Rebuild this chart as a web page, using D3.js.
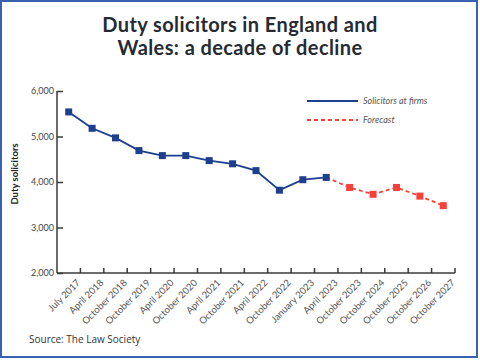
<!DOCTYPE html>
<html>
<head>
<meta charset="utf-8">
<script src="https://cdn.jsdelivr.net/npm/d3@7"></script>
<style>
  body { margin: 0; background: #fff; }
  svg { display: block; font-family: Lato, "Open Sans", sans-serif; }
</style>
</head>
<body>
<div id="chart"></div>
<script>
var w = 480, h = 360;

// data
var periods = ["July 2017", "April 2018", "October 2018", "October 2019", "April 2020",
    "October 2020", "April 2021", "October 2021", "April 2022", "October 2022",
    "January 2023", "April 2023", "October 2023", "October 2024", "October 2025",
    "October 2026", "October 2027"];
var actualPeriods = periods.slice(0, 12);
var actualValues = [5540, 5180, 4970, 4690, 4580, 4580, 4470, 4400, 4250, 3820, 4050, 4100];
var forecastPeriods = ["April 2023", "October 2023", "October 2024", "October 2025", "October 2026", "October 2027"];
var forecastValues = [4100, 3880, 3730, 3880, 3690, 3480];
var yTicks = [2000, 3000, 4000, 5000, 6000];
var legendLabels = ["Solicitors at firms", "Forecast"];

var blue = "#1d3f8e", red = "#f8403a", axisColor = "#3a3a3a";

var svg = d3.select("#chart").append("svg")
    .attr("width", w)
    .attr("height", h);

// frame
svg.append("rect")
    .attr("x", 1).attr("y", 1)
    .attr("width", 476).attr("height", 356)
    .attr("fill", "#fff")
    .attr("stroke", "#3a62b0")
    .attr("stroke-width", 2);

// title
var title = svg.append("g")
    .attr("fill", "#262b33")
    .style("font-size", "20px")
    .style("font-weight", "bold")
    .style("letter-spacing", "0.4px");
title.append("text").attr("x", 240).attr("y", 32).attr("text-anchor", "middle")
    .text("Duty solicitors in England and");
title.append("text").attr("x", 240).attr("y", 55).attr("text-anchor", "middle")
    .text("Wales: a decade of decline");

var x = d3.scaleBand().domain(periods).range([57, 455]);
var y = d3.scaleLinear().domain([2000, 6000]).range([273, 91]);

function cx(d) { return x(d) + x.bandwidth() / 2; }

// y axis
var yAxis = svg.append("g")
    .attr("transform", "translate(57,0)")
    .call(d3.axisLeft(y).tickValues(yTicks).tickSize(-6).tickPadding(4)
        .tickFormat(d3.format(",")));
yAxis.select(".domain").remove();
yAxis.selectAll(".tick line").attr("stroke", axisColor).attr("stroke-width", 1.5);
yAxis.selectAll(".tick text")
    .attr("x", -3)
    .attr("fill", "#444")
    .style("font-size", "9px")
    .style("font-family", "Lato, sans-serif");

// x axis (ticks at band edges)
var xg = svg.append("g");
xg.append("line")
    .attr("x1", 57).attr("x2", 455)
    .attr("y1", y(2000)).attr("y2", y(2000))
    .attr("stroke", axisColor).attr("stroke-width", 1.5);
svg.append("line")
    .attr("x1", 57).attr("x2", 57)
    .attr("y1", y(6000)).attr("y2", y(2000))
    .attr("stroke", axisColor).attr("stroke-width", 1.5);

var xt = xg.selectAll(".xtick")
    .data(periods)
    .enter()
    .append("g")
    .attr("class", "xtick")
    .attr("transform", function(d) {
        return "translate(" + (x(d) + x.bandwidth()) + "," + y(2000) + ")";
    });
xt.append("line")
    .attr("y1", 0).attr("y2", -5)
    .attr("stroke", axisColor).attr("stroke-width", 1.5);
xt.append("text")
    .attr("transform", "translate(-2,8) rotate(-45)")
    .attr("text-anchor", "end")
    .attr("dy", "0.35em")
    .attr("fill", "#555")
    .style("font-size", "9.5px")
    .text(function(d) { return d; });

// y label
svg.append("text")
    .attr("transform", "translate(18,174) rotate(-90)")
    .attr("text-anchor", "middle")
    .attr("fill", "#222")
    .style("font-size", "9.5px")
    .style("font-weight", "bold")
    .text("Duty solicitors");

var line = d3.line()
    .x(function(d) { return cx(d[0]); })
    .y(function(d) { return y(d[1]); });

var forecast = d3.zip(forecastPeriods, forecastValues);
var actual = d3.zip(actualPeriods, actualValues);

svg.append("path")
    .datum(forecast)
    .attr("fill", "none")
    .attr("stroke", red)
    .attr("stroke-width", 1.8)
    .attr("stroke-dasharray", "4,3")
    .attr("d", line);

svg.selectAll(".fpoint")
    .data(forecast.slice(1))
    .enter()
    .append("rect")
    .attr("class", "fpoint")
    .attr("x", function(d) { return cx(d[0]) - 3.5; })
    .attr("y", function(d) { return y(d[1]) - 3.5; })
    .attr("width", 7).attr("height", 7)
    .attr("fill", red);

svg.append("path")
    .datum(actual)
    .attr("fill", "none")
    .attr("stroke", blue)
    .attr("stroke-width", 1.8)
    .attr("d", line);

svg.selectAll(".apoint")
    .data(actual)
    .enter()
    .append("rect")
    .attr("class", "apoint")
    .attr("x", function(d) { return cx(d[0]) - 3.5; })
    .attr("y", function(d) { return y(d[1]) - 3.5; })
    .attr("width", 7).attr("height", 7)
    .attr("fill", blue);

// legend
var legend = svg.append("g");
legend.append("line")
    .attr("x1", 307).attr("x2", 358).attr("y1", 101).attr("y2", 101)
    .attr("stroke", blue).attr("stroke-width", 1.8);
legend.append("line")
    .attr("x1", 307).attr("x2", 358).attr("y1", 120).attr("y2", 120)
    .attr("stroke", red).attr("stroke-width", 1.8)
    .attr("stroke-dasharray", "4,3");
legend.selectAll("text")
    .data(legendLabels)
    .enter()
    .append("text")
    .attr("x", 363)
    .attr("y", function(d, i) { return 104 + i * 19; })
    .attr("fill", "#555")
    .style("font-size", "9px")
    .style("font-style", "italic")
    .text(function(d) { return d; });

// source
svg.append("text")
    .attr("x", 29).attr("y", 343)
    .attr("fill", "#333")
    .style("font-size", "10px")
    .style("font-family", "'Open Sans', sans-serif")
    .text("Source: The Law Society");
</script>
</body>
</html>
